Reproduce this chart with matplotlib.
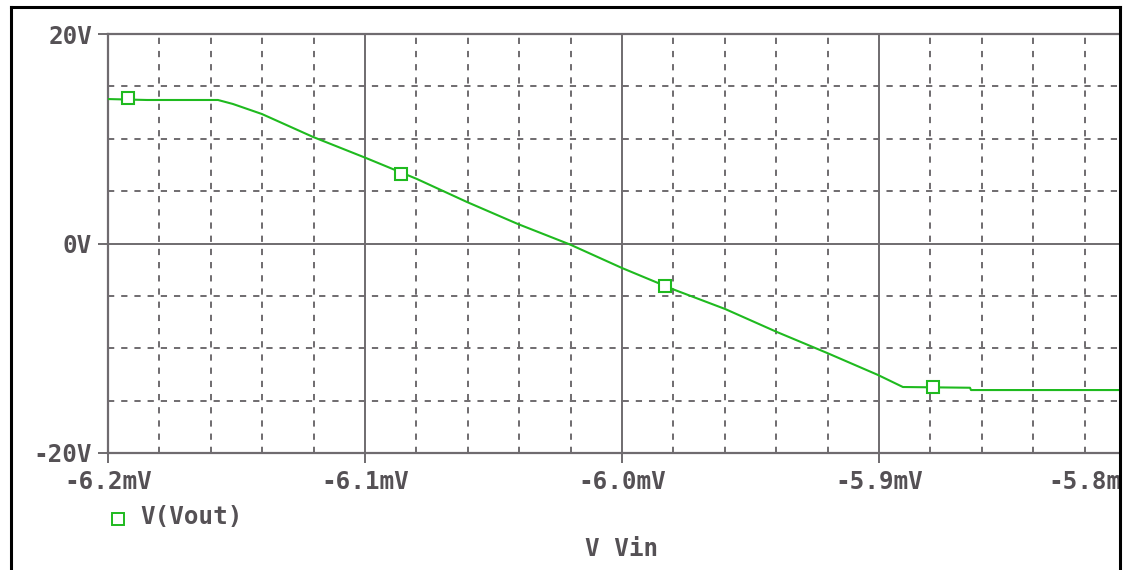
import numpy as np
import matplotlib
matplotlib.use("Agg")
import matplotlib.pyplot as plt
from matplotlib.lines import Line2D
from matplotlib.patches import Rectangle
from matplotlib.ticker import MultipleLocator, FixedLocator

# V(Vout) versus V Vin (mV)
vin = [-6.2000, -6.1848, -6.1572, -6.1514, -6.1401, -6.1202, -6.0996,
       -6.0798, -6.0603, -6.0405, -6.0202, -6.0000, -5.9794, -5.9599,
       -5.9397, -5.9202, -5.9004, -5.8907, -5.8646, -5.8642, -5.8000]
vout = [13.79, 13.70, 13.70, 13.32, 12.36, 10.17, 8.16,
        6.16, 3.96, 1.86, -0.10, -2.34, -4.44, -6.25,
        -8.45, -10.45, -12.55, -13.70, -13.77, -13.99, -13.99]

marker_vin = [-6.1922, -6.0860, -5.9833, -5.8790]
marker_vout = [13.90, 6.63, -4.06, -13.70]

x_ticks = [-6.2, -6.1, -6.0, -5.9, -5.8]
x_labels = ["-6.2mV", "-6.1mV", "-6.0mV", "-5.9mV", "-5.8mV"]
y_ticks = [-20, 0, 20]
y_labels = ["-20V", "0V", "20V"]

trace_name = "V(Vout)"
x_title = "V Vin"

green = "#1fba1f"
gridc = "#6f6b6f"
textc = "#555155"
fs = 17.5

plt.rcParams["lines.scale_dashes"] = False
plt.rcParams["font.family"] = ["DejaVu Sans Mono"]
plt.rcParams["font.weight"] = "bold"

W, H = 1126, 570
fig = plt.figure(figsize=(W / 100, H / 100), dpi=100)
fig.patch.set_facecolor("white")

# axes box in pixels: left 108, top 34, bottom 453, right edge at -5.8mV (off picture)
left, top, bottom, right = 108, 34, 453, 1136
ax = fig.add_axes([left / W, 1 - bottom / H, (right - left) / W, (bottom - top) / H])

ax.plot(vin, vout, color=green, lw=1.5, zorder=3)
ax.plot(marker_vin, marker_vout, ls="none", marker="s", ms=8.5, mfc="white",
        mec=green, mew=1.5, zorder=4)

ax.set_xlim(-6.2, -5.8)
ax.set_ylim(-20, 20)

ax.xaxis.set_major_locator(FixedLocator(x_ticks))
ax.set_xticklabels(x_labels)
ax.xaxis.set_minor_locator(MultipleLocator(0.02))
ax.yaxis.set_major_locator(FixedLocator(y_ticks))
ax.set_yticklabels(y_labels)
ax.yaxis.set_minor_locator(MultipleLocator(5))

ax.grid(which="major", color=gridc, lw=1.4, ls="-", zorder=1)
ax.grid(which="minor", color=gridc, lw=1.4, ls=(0, (4.5, 5.0)), zorder=1)

ax.tick_params(which="major", length=7.5, width=1.4, color=gridc,
               labelcolor=textc, labelsize=fs, pad=4)
ax.tick_params(axis="x", which="major", pad=5)
ax.tick_params(which="minor", length=0)
# PSpice pulls the last label inside the window
ax.get_xticklabels()[-1].set_ha("right")

for side, sp in ax.spines.items():
    sp.set_color(gridc)
    sp.set_linewidth(1.6)
ax.spines["right"].set_visible(False)

# legend entry and x title
fig.add_artist(Line2D([118 / W], [1 - 519 / H], ls="none", marker="s", ms=8,
                      mfc="white", mec=green, mew=1.4))
fig.text(140 / W, 1 - 517 / H, trace_name, color=textc, fontsize=fs,
         ha="left", va="center")
fig.text(622 / W, 1 - 549 / H, x_title, color=textc, fontsize=fs,
         ha="center", va="center")

# the window frame, cut off at the right
fig.add_artist(Rectangle((1121 / W, 0), 1, 1, transform=fig.transFigure,
                         facecolor="white", edgecolor="none", zorder=10))
fig.add_artist(Line2D([11 / W, 11 / W], [0, 1 - 7 / H], color="black", lw=2.2, zorder=11))
fig.add_artist(Line2D([11 / W, 1120 / W], [1 - 7 / H, 1 - 7 / H], color="black", lw=2.2, zorder=11))
fig.add_artist(Line2D([1120 / W, 1120 / W], [0, 1 - 7 / H], color="black", lw=2.2, zorder=11))

fig.savefig("out.png", dpi=100, facecolor="white")
